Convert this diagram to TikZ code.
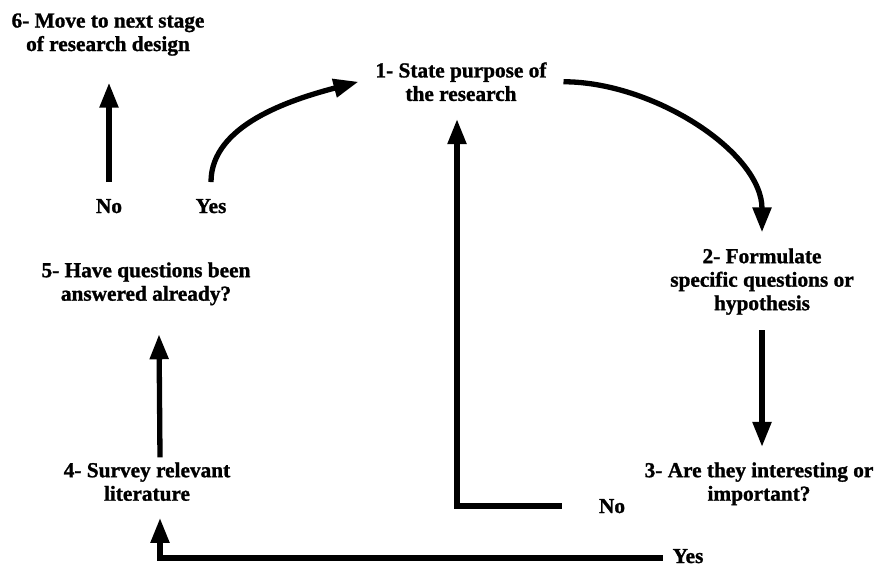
\documentclass[tikz,border=0pt]{standalone}
\usepackage{fontspec}
\setmainfont{Liberation Serif}[BoldFeatures={FakeBold=1.2}]
\usetikzlibrary{arrows.meta}

\begin{document}
\begin{tikzpicture}[x=1pt,y=1pt,
  label text/.style={font=\fontsize{21.3}{23.5}\selectfont\bfseries, inner sep=0pt, outer sep=0pt},
  stepbox/.style={label text, align=center, anchor=north},
  answer/.style={label text, anchor=base},
  arr/.style={line width=5.3pt, -{Triangle[length=25pt,width=18pt]}}
]
\useasboundingbox[fill=white] (0,0) rectangle (877,-567);

% steps of the research process
\node[stepbox] (n6) at (108,-13.4) {6- Move to next stage\\of research design};
\node[stepbox] (n1) at (461,-62.4) {1- State purpose of\\the research};
\node[stepbox] (n2) at (762,-248.4) {2- Formulate\\specific questions or\\hypothesis};
\node[stepbox] (n3) at (759,-462.4) {3- Are they interesting or\\important?};
\node[stepbox] (n4) at (147,-462.4) {4- Survey relevant\\literature};
\node[stepbox] (n5) at (146,-262.4) {5- Have questions been\\answered already?};

% decision answers
\node[answer] (no5)  at (109,-213) {No};
\node[answer] (yes5) at (211,-213) {Yes};
\node[answer] (no3)  at (612,-513) {No};
\node[answer] (yes3) at (688,-563) {Yes};

% 5 -> 6 (No)
\draw[arr, shorten <=17pt, shorten >=27pt] (no5.north) -- (no5.north |- n6.south);
% 5 -> 1 (Yes)
\draw[arr] ([yshift=17pt]yes5.north) .. controls +(0,57) and +(-68,-18) .. ([xshift=-17pt]n1.west);
% 1 -> 2
\draw[arr] ([xshift=17pt]n1.east) .. controls +(90,0) and +(0,80) .. ([yshift=16pt]n2.north);
% 2 -> 3
\draw[arr, shorten <=15.5pt, shorten >=15.5pt] (n2.south) -- (n2.south |- n3.north);
% 3 -> 1 (No)
\draw[arr] ([xshift=-37pt]no3.west) -| ([xshift=-4pt,yshift=-18pt]n1.south);
% 3 -> 4 (Yes)
\draw[arr] ([xshift=-10pt,yshift=-2pt]yes3.west) -| ([xshift=13pt,yshift=-17pt]n4.south);
% 4 -> 5
\draw[arr] ([xshift=13pt,yshift=5pt]n4.north) -- ([xshift=13pt,yshift=-29pt]n5.south);
\end{tikzpicture}
\end{document}
